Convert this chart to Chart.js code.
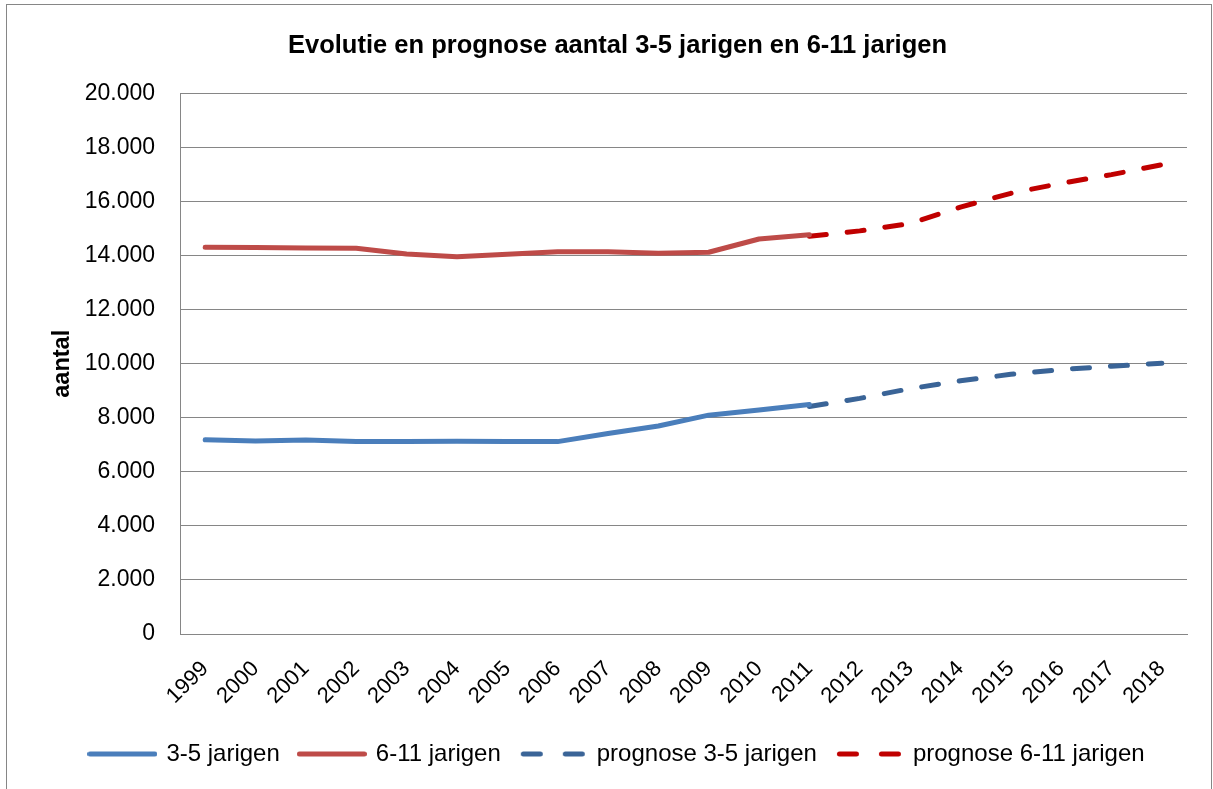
<!DOCTYPE html>
<html>
<head>
<meta charset="utf-8">
<script src="https://cdn.jsdelivr.net/npm/chart.js@4"></script>
<style>
  html, body { margin: 0; padding: 0; background: #fff; }
  #wrap { position: relative; width: 1213px; height: 789px; }
  canvas { display: block; }
</style>
</head>
<body>
<div id="wrap"><canvas id="c" width="1213" height="789"></canvas></div>
<script>
const years = ['1999','2000','2001','2002','2003','2004','2005','2006','2007','2008','2009','2010','2011','2012','2013','2014','2015','2016','2017','2018'];
const jarigen35 = [7190, 7140, 7180, 7120, 7120, 7130, 7120, 7120, 7420, 7700, 8100, 8290, 8490, null, null, null, null, null, null, null];
const jarigen611 = [14310, 14300, 14290, 14280, 14060, 13960, 14050, 14150, 14150, 14090, 14130, 14620, 14780, null, null, null, null, null, null, null];
const prognose35 = [null, null, null, null, null, null, null, null, null, null, null, null, 8420, 8720, 9080, 9370, 9610, 9790, 9910, 10020];
const prognose611 = [null, null, null, null, null, null, null, null, null, null, null, null, 14720, 14920, 15190, 15800, 16310, 16680, 17000, 17370];
const yTickLabels = ['0','2.000','4.000','6.000','8.000','10.000','12.000','14.000','16.000','18.000','20.000'];
const seriesNames = ['3-5 jarigen', '6-11 jarigen', 'prognose 3-5 jarigen', 'prognose 6-11 jarigen'];
const seriesColors = ['#4A7EBB', '#BE4B48', '#3A6497', '#C00000'];
const seriesDashed = [false, false, true, true];
const titleText = 'Evolutie en prognose aantal 3-5 jarigen en 6-11 jarigen';
const yTitle = 'aantal';

Chart.defaults.font.family = '"Liberation Sans", Arial, sans-serif';
Chart.defaults.color = '#000';

// legend line samples as small images
function legendSample(color, dashed) {
  const cv = document.createElement('canvas');
  cv.width = 70; cv.height = 10;
  const g = cv.getContext('2d');
  g.strokeStyle = color;
  g.lineWidth = 5;
  g.lineCap = 'round';
  g.beginPath();
  if (dashed) {
    g.moveTo(5.5, 5); g.lineTo(22.5, 5);
    g.moveTo(47.5, 5); g.lineTo(64.5, 5);
  } else {
    g.moveTo(2.5, 5); g.lineTo(67.5, 5);
  }
  g.stroke();
  return cv;
}
const samples = seriesColors.map((c, i) => legendSample(c, seriesDashed[i]));

const frame = {
  id: 'frame',
  beforeDraw(chart) {
    const ctx = chart.ctx;
    ctx.save();
    ctx.fillStyle = '#fff';
    ctx.fillRect(0, 0, chart.width, chart.height);
    ctx.strokeStyle = '#868686';
    ctx.lineWidth = 1;
    ctx.strokeRect(6.5, 4.5, 1205, 800);
    ctx.restore();
  }
};

const common = { pointRadius: 0, pointHoverRadius: 0, borderWidth: 5, borderCapStyle: 'round', borderJoinStyle: 'round', tension: 0, fill: false };
const dataSets = [jarigen35, jarigen611, prognose35, prognose611];

new Chart(document.getElementById('c'), {
  type: 'line',
  data: {
    labels: years,
    datasets: dataSets.map((d, i) => Object.assign({
      label: seriesNames[i],
      data: d,
      borderColor: seriesColors[i],
      backgroundColor: seriesColors[i],
      borderDash: seriesDashed[i] ? [17, 21] : []
    }, common))
  },
  options: {
    responsive: false,
    animation: false,
    layout: { padding: { left: 48, right: 26, top: 0, bottom: 13 } },
    plugins: {
      title: {
        display: true,
        text: titleText,
        font: { size: 25.5, weight: 'bold' },
        color: '#000',
        padding: { top: 31, bottom: 32 }
      },
      legend: {
        position: 'bottom',
        labels: {
          usePointStyle: true,
          pointStyleWidth: 64,
          font: { size: 24 },
          padding: 20,
          color: '#000',
          generateLabels(chart) {
            const items = Chart.defaults.plugins.legend.labels.generateLabels(chart);
            items.forEach((it) => { it.pointStyle = samples[it.datasetIndex]; });
            return items;
          }
        }
      },
      tooltip: { enabled: false }
    },
    scales: {
      x: {
        offset: true,
        grid: { display: false, drawTicks: false },
        border: { display: true, color: '#868686', width: 1 },
        ticks: { autoSkip: false, maxRotation: 45, minRotation: 45, padding: 22, font: { size: 22 }, color: '#000' },
        afterFit(scale) { scale.height = 88; }
      },
      y: {
        min: 0,
        max: 20000,
        grid: { color: '#868686', lineWidth: 1, drawTicks: false },
        border: { display: true, color: '#868686', width: 1 },
        ticks: {
          stepSize: 2000,
          padding: 25,
          font: { size: 23 },
          color: '#000',
          callback: (v) => yTickLabels[Math.round(v / 2000)]
        },
        title: {
          display: true,
          text: yTitle,
          font: { size: 23.5, weight: 'bold' },
          color: '#000',
          padding: { top: 0, bottom: 0 }
        },
        afterFit(scale) { scale.width = 132; }
      }
    }
  },
  plugins: [frame]
});
</script>
</body>
</html>
